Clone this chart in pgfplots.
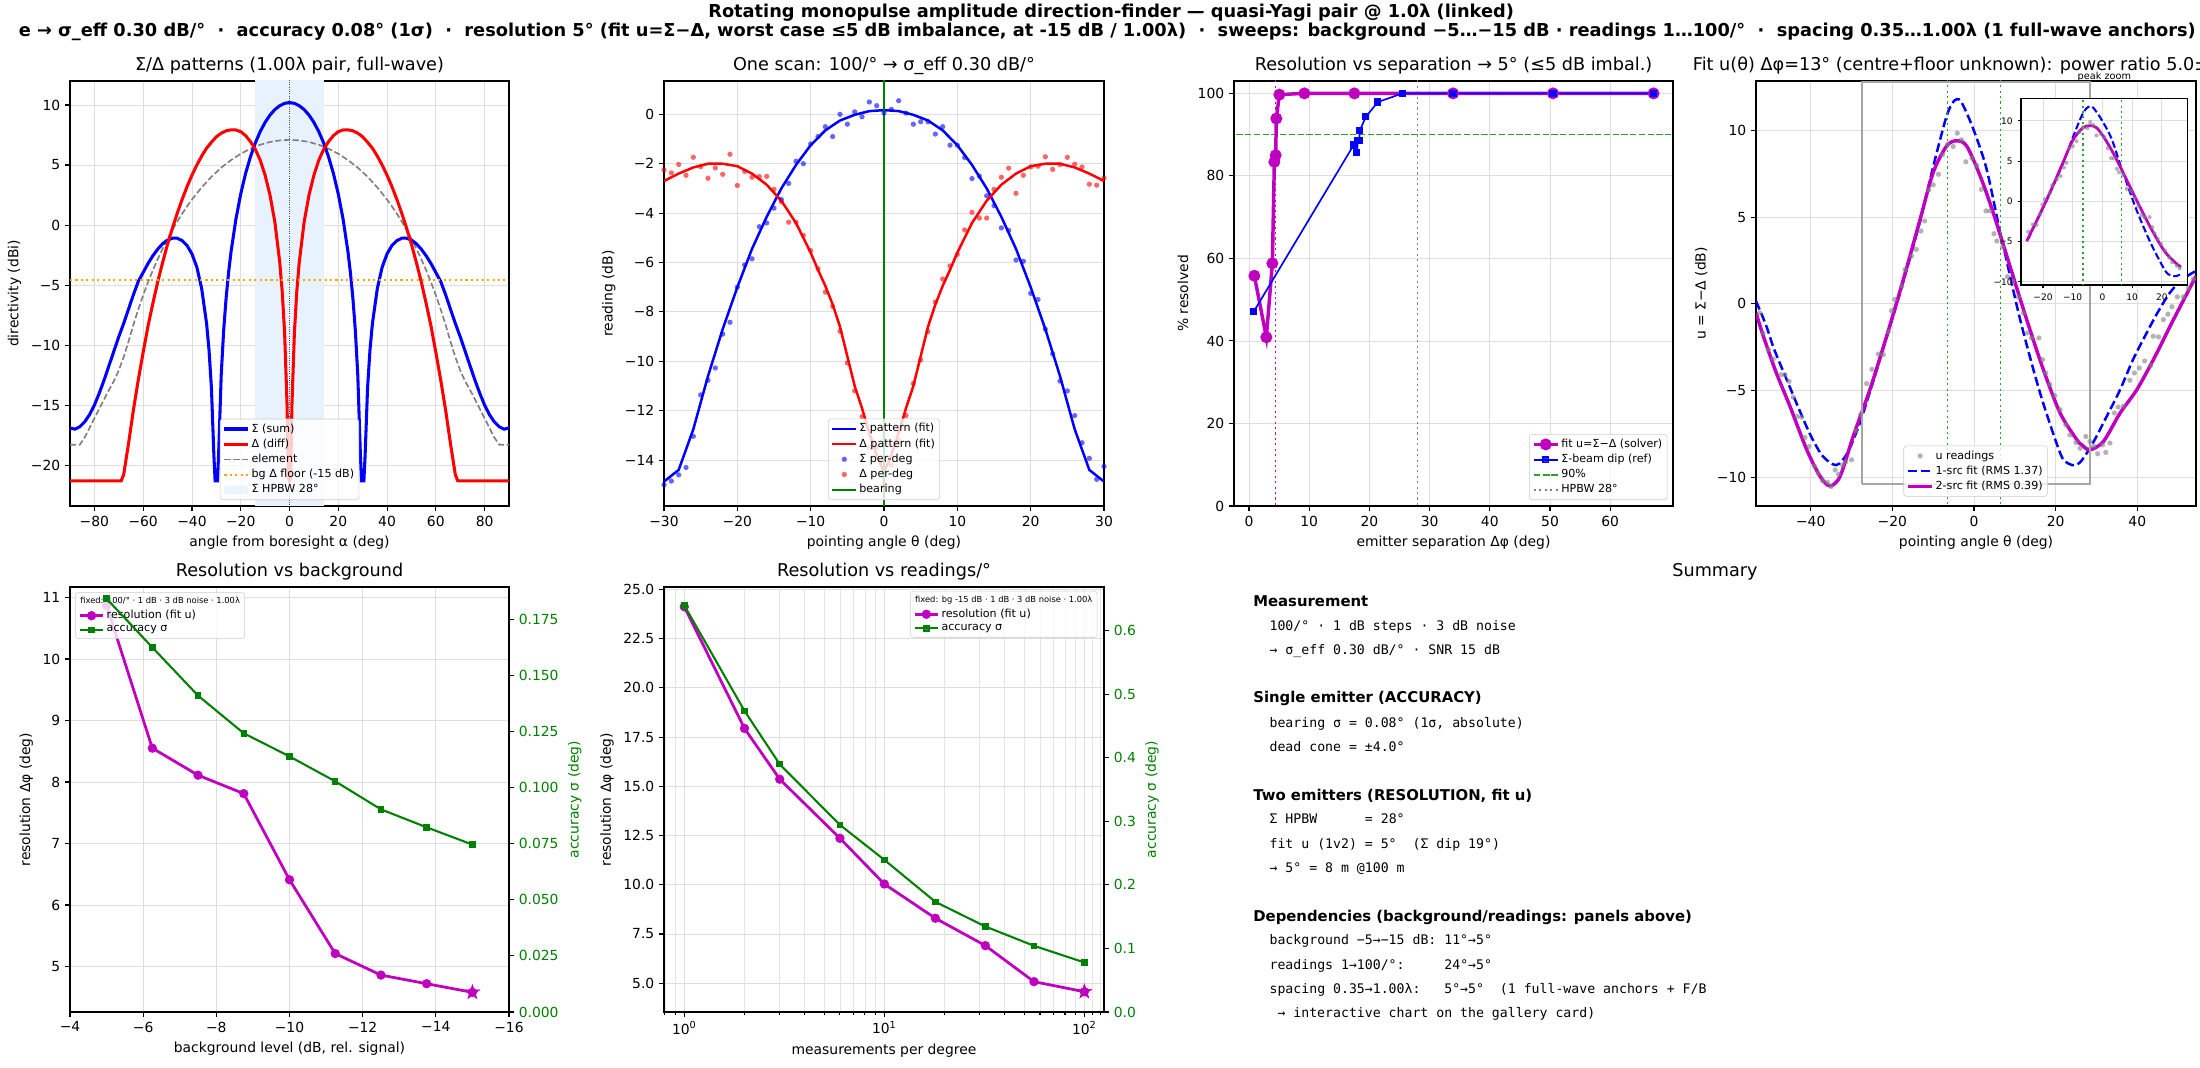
\documentclass[border=0pt]{standalone}
\usepackage{fontspec}
\setmainfont{DejaVu Sans}
\newfontfamily\smono{DejaVu Sans Mono}
\usepackage{pgfplots}
\pgfplotsset{compat=1.18}

\definecolor{mplm}{rgb}{0.75,0,0.75}
\definecolor{mplg}{rgb}{0,0.5,0}
\definecolor{tabgreen}{rgb}{0.173,0.627,0.173}
\definecolor{orng}{rgb}{1,0.647,0}
\definecolor{hpbw}{RGB}{232,242,253}

\pgfdeclareplotmark{fstar}{%
  \pgfpathmoveto{\pgfpointpolar{90}{\pgfplotmarksize}}%
  \pgfpathlineto{\pgfpointpolar{126}{0.382*\pgfplotmarksize}}%
  \pgfpathlineto{\pgfpointpolar{162}{\pgfplotmarksize}}%
  \pgfpathlineto{\pgfpointpolar{198}{0.382*\pgfplotmarksize}}%
  \pgfpathlineto{\pgfpointpolar{234}{\pgfplotmarksize}}%
  \pgfpathlineto{\pgfpointpolar{270}{0.382*\pgfplotmarksize}}%
  \pgfpathlineto{\pgfpointpolar{306}{\pgfplotmarksize}}%
  \pgfpathlineto{\pgfpointpolar{342}{0.382*\pgfplotmarksize}}%
  \pgfpathlineto{\pgfpointpolar{18}{\pgfplotmarksize}}%
  \pgfpathlineto{\pgfpointpolar{54}{0.382*\pgfplotmarksize}}%
  \pgfpathclose
  \pgfusepathqfillstroke
}

\pgfplotsset{
  base/.style={
    scale only axis,
    axis line style={line width=0.8pt},
    tick align=outside, tick pos=left,
    major tick length=3.5pt, minor tick length=2pt,
    every tick/.style={black, line width=0.8pt},
    tick label style={font=\fontsize{10}{12}\selectfont},
    label style={font=\fontsize{10}{12}\selectfont},
    every axis title shift=0pt,
    title style={font=\fontsize{12.7}{15}\selectfont, anchor=base, yshift=7.2pt},
    grid style={black!13, line width=0.6pt},
    legend style={font=\fontsize{8}{9.6}\selectfont, draw=black!20, rounded corners=2pt,
      fill=white, fill opacity=0.8, text opacity=1, inner sep=2pt, row sep=0.6pt,
      nodes={inner sep=1.4pt}},
    legend cell align=left,
  },
  dashedA/.style={dash pattern=on 4.4pt off 1.9pt},
  dottedA/.style={dash pattern=on 1.5pt off 2.4pt},
  dotB/.style={only marks, mark=*, mark size=1.9pt, mark options={fill=blue, fill opacity=0.6, draw opacity=0}},
  dotR/.style={only marks, mark=*, mark size=1.9pt, mark options={fill=red, fill opacity=0.6, draw opacity=0}},
  dotG/.style={only marks, mark=*, mark size=1.9pt, mark options={fill=gray, fill opacity=0.6, draw opacity=0}},
}

\begin{document}
\begin{tikzpicture}

% ---------------- Panel 1 ----------------
\begin{axis}[base, at={(50.4pt,403.92pt)}, anchor=south west, width=316.08pt, height=306pt,
  xmin=-90, xmax=90, ymin=-23.4, ymax=12.0,
  xtick={-80,-60,-40,-20,0,20,40,60,80}, xticklabels={−80,−60,−40,−20,0,20,40,60,80},
  ytick={-20,-15,-10,-5,0,5,10}, yticklabels={−20,−15,−10,−5,0,5,10},
  grid=major, title={Σ/Δ patterns (1.00λ pair, full-wave)},
  xlabel={angle from boresight α (deg)}, ylabel={directivity (dBi)},
  legend style={at={(0.5,0.014)}, anchor=south}]
\addplot[fill=hpbw, draw=none, forget plot] coordinates {(-14,-30) (-14,20) (14,20) (14,-30)};
\addplot[black!70, line width=0.5pt, dash pattern=on 0.6pt off 1pt, forget plot] coordinates {(0,-30) (0,20)};
\addplot[gray, dashedA, line width=1.2pt, forget plot] coordinates {
(-90,-18.3) (-86,-18.3) (-84,-17.7) (-82,-16.9) (-80,-16.1) (-78,-15.3) (-75,-14.1) (-72,-13.0) (-70,-12.1)
(-68,-11.0) (-66,-9.70) (-64,-8.30) (-62,-7.02) (-60,-5.84) (-58,-4.76) (-56,-3.75) (-54,-2.82) (-52,-1.96)
(-50,-1.15) (-48,-0.40) (-46,0.30) (-44,0.95) (-42,1.56) (-40,2.12) (-36,3.14) (-32,4.02) (-28,4.78)
(-24,5.41) (-20,5.94) (-16,6.36) (-12,6.69) (-8,6.92) (-4,7.05) (0,7.1)
(4,7.05) (8,6.92) (12,6.69) (16,6.36) (20,5.94) (24,5.41) (28,4.78) (32,4.02) (36,3.14) (40,2.12)
(42,1.56) (44,0.95) (46,0.30) (48,-0.40) (50,-1.15) (52,-1.96) (54,-2.82) (56,-3.75) (58,-4.76) (60,-5.84)
(62,-7.02) (64,-8.30) (66,-9.70) (68,-11.0) (70,-12.1) (72,-13.0) (75,-14.1) (78,-15.3) (80,-16.1)
(82,-16.9) (84,-17.7) (86,-18.3) (90,-18.3)};
\addplot[blue, line width=2.2pt, forget plot] coordinates {
(-90,-16.9) (-88,-17.0) (-86,-16.8) (-84,-16.4) (-82,-15.8) (-80,-15.0) (-78,-14.0) (-76,-12.9) (-74,-11.7)
(-72,-10.5) (-70,-9.3) (-68,-8.2) (-66,-7.0) (-64,-5.8) (-62,-4.7) (-60,-3.95) (-58,-3.2) (-56,-2.55)
(-54,-2.0) (-52,-1.55) (-50,-1.25) (-48,-1.1) (-47,-1.08) (-46,-1.1) (-44,-1.3) (-42,-1.7) (-40,-2.4)
(-38,-3.5) (-36,-5.3) (-34,-8.2) (-33,-10.4) (-32,-13.6) (-31,-19.2) (-30.5,-21.3) (-29.5,-21.3)
(-29,-18.7) (-28,-12.49) (-27,-8.79) (-26,-6.11) (-25,-4.01) (-24,-2.27) (-22,0.46) (-20,2.59)
(-18,4.30) (-16,5.69) (-14,6.85) (-12,7.79) (-10,8.55) (-8,9.16) (-6,9.62) (-4,9.94) (-2,10.14) (0,10.2)
(2,10.14) (4,9.94) (6,9.62) (8,9.16) (10,8.55) (12,7.79) (14,6.85) (16,5.69) (18,4.30) (20,2.59)
(22,0.46) (24,-2.27) (25,-4.01) (26,-6.11) (27,-8.79) (28,-12.49) (29,-18.7) (29.5,-21.3) (30.5,-21.3)
(31,-19.2) (32,-13.6) (33,-10.4) (34,-8.2) (36,-5.3) (38,-3.5) (40,-2.4) (42,-1.7) (44,-1.3) (46,-1.1)
(47,-1.08) (48,-1.1) (50,-1.25) (52,-1.55) (54,-2.0) (56,-2.55) (58,-3.2) (60,-3.95) (62,-4.7) (64,-5.8)
(66,-7.0) (68,-8.2) (70,-9.3) (72,-10.5) (74,-11.7) (76,-12.9) (78,-14.0) (80,-15.0) (82,-15.8)
(84,-16.4) (86,-16.8) (88,-17.0) (90,-16.9)};
\addplot[red, line width=2.2pt, forget plot] coordinates {
(-90,-21.3) (-69,-21.3) (-68,-20.8) (-66,-18.2) (-64,-15.4) (-62,-12.9) (-60,-10.6) (-58,-8.4) (-56,-6.5)
(-54,-4.7) (-52,-3.1) (-50,-1.6) (-48,-0.25) (-46,1.0) (-44,2.15) (-42,3.2) (-40,4.15) (-38,5.0)
(-36,5.75) (-34,6.4) (-32,6.9) (-30,7.35) (-28,7.65) (-26,7.85) (-24,7.93) (-22,7.92) (-20,7.78)
(-18,7.45) (-16,6.95) (-14,6.30) (-12,5.40) (-10,4.15) (-8,2.5) (-6,0.25) (-4,-3.1) (-3,-5.5) (-2,-9.0)
(-1,-15.0) (-0.5,-21.0) (0,-21.3) (0.5,-21.0) (1,-15.0) (2,-9.0) (3,-5.5) (4,-3.1) (6,0.25) (8,2.5)
(10,4.15) (12,5.40) (14,6.30) (16,6.95) (18,7.45) (20,7.78) (22,7.92) (24,7.93) (26,7.85) (28,7.65)
(30,7.35) (32,6.9) (34,6.4) (36,5.75) (38,5.0) (40,4.15) (42,3.2) (44,2.15) (46,1.0) (48,-0.25)
(50,-1.6) (52,-3.1) (54,-4.7) (56,-6.5) (58,-8.4) (60,-10.6) (62,-12.9) (64,-15.4) (66,-18.2)
(68,-20.8) (69,-21.3) (90,-21.3)};
\addplot[orng, dottedA, line width=1.5pt, forget plot] coordinates {(-90,-4.6) (90,-4.6)};
\addlegendimage{blue, line width=2.2pt}\addlegendentry{Σ (sum)}
\addlegendimage{red, line width=2.2pt}\addlegendentry{Δ (diff)}
\addlegendimage{gray, dashedA, line width=1.2pt}\addlegendentry{element}
\addlegendimage{orng, dottedA, line width=1.5pt}\addlegendentry{bg Δ floor (-15 dB)}
\addlegendimage{area legend, fill=hpbw, draw=hpbw}\addlegendentry{Σ HPBW 28°}
\end{axis}

% ---------------- Panel 2 ----------------
\begin{axis}[base, at={(478.08pt,403.92pt)}, anchor=south west, width=316.8pt, height=306pt,
  xmin=-30, xmax=30, ymin=-15.86, ymax=1.35,
  xtick={-30,-20,-10,0,10,20,30}, xticklabels={−30,−20,−10,0,10,20,30},
  ytick={-14,-12,-10,-8,-6,-4,-2,0}, yticklabels={−14,−12,−10,−8,−6,−4,−2,0},
  grid=major, title={One scan: 100/° → σ\_eff 0.30 dB/°},
  xlabel={pointing angle θ (deg)}, ylabel={reading (dB)},
  legend style={at={(0.5,0.014)}, anchor=south}]
\addplot[blue, line width=1.8pt, forget plot] coordinates {
(-30,-14.87) (-28,-14.4) (-26,-12.75) (-24,-10.6) (-22,-8.7) (-20,-7.0) (-18,-5.45) (-16,-4.15) (-14,-3.0)
(-12,-2.05) (-10,-1.25) (-8,-0.65) (-6,-0.25) (-4,-0.02) (-2,0.13) (0,0.17) (2,0.13) (4,-0.02) (6,-0.25)
(8,-0.65) (10,-1.25) (12,-2.05) (14,-3.0) (16,-4.15) (18,-5.45) (20,-7.0) (22,-8.7) (24,-10.6)
(26,-12.75) (28,-14.4) (30,-14.87)};
\addplot[red, line width=1.8pt, forget plot] coordinates {
(-30,-2.7) (-28,-2.4) (-26,-2.15) (-24,-2.0) (-22,-2.0) (-20,-2.1) (-18,-2.4) (-16,-2.85) (-14,-3.5)
(-12,-4.4) (-10,-5.6) (-9,-6.3) (-8,-6.95) (-7,-7.7) (-6,-8.6) (-5,-9.8) (-4,-11.0) (-3,-11.9) (-2,-12.9)
(-1,-13.8) (0,-14.5) (1,-13.8) (2,-12.9) (3,-11.9) (4,-11.0) (5,-9.8) (6,-8.6) (7,-7.7) (8,-6.95)
(9,-6.3) (10,-5.6) (12,-4.4) (14,-3.5) (16,-2.85) (18,-2.4) (20,-2.1) (22,-2.0) (24,-2.0) (26,-2.15)
(28,-2.4) (30,-2.7)};
\addplot[dotB, forget plot] coordinates {
(-30,-15.0) (-29,-14.85) (-28,-14.6) (-27,-14.3) (-26,-13.04) (-25,-11.36) (-24,-10.77) (-23,-10.27)
(-22,-8.9) (-21,-8.42) (-20,-7.0) (-19,-6.1) (-18,-5.85) (-17,-4.55) (-16,-4.4) (-15,-3.8) (-14,-3.45)
(-13,-2.8) (-12,-1.9) (-11,-2.0) (-10,-1.2) (-9,-0.9) (-8,-0.5) (-7,-0.9) (-6,0.0) (-5,-0.4) (-4,0.1)
(-3,-0.1) (-2,0.5) (-1,0.35) (0,0.05) (1,0.2) (2,0.55) (3,0.05) (4,-0.4) (5,-0.3) (6,-0.3) (7,-0.8)
(8,-0.5) (9,-1.25) (10,-1.25) (11,-1.75) (12,-2.6) (13,-2.5) (14,-3.3) (15,-3.7) (16,-4.6) (17,-4.7)
(18,-5.9) (19,-5.95) (20,-7.25) (21,-7.5) (22,-8.7) (23,-9.7) (24,-10.8) (25,-11.2) (26,-12.2)
(27,-13.3) (28,-13.93) (29,-14.78) (30,-14.26)};
\addplot[dotR, forget plot] coordinates {
(-30,-2.25) (-29,-2.37) (-28,-2.03) (-27,-2.47) (-26,-1.74) (-25,-2.12) (-24,-2.59) (-23,-2.17) (-22,-2.43)
(-21,-1.62) (-20,-2.88) (-19,-2.31) (-18,-2.55) (-17,-2.52) (-16,-2.51) (-15,-3.04) (-14,-3.54)
(-13,-4.37) (-12,-4.37) (-11,-4.90) (-10,-5.52) (-9,-6.25) (-8,-7.2) (-7,-7.78) (-6,-8.79) (-5,-10.07)
(-4,-11.2) (-3,-12.24) (-2,-13.5) (-1,-13.5) (0,-15.0) (1,-14.2) (2,-13.2) (3,-12.2) (4,-10.9)
(5,-9.95) (6,-8.8) (7,-7.6) (8,-6.67) (9,-6.14) (10,-5.67) (11,-4.68) (12,-3.97) (13,-4.2) (14,-4.2)
(15,-3.04) (16,-2.55) (17,-2.18) (18,-3.2) (19,-2.47) (20,-2.13) (21,-2.1) (22,-1.72) (23,-2.23)
(24,-2.04) (25,-1.74) (26,-2.02) (27,-2.13) (28,-2.83) (29,-2.87) (30,-2.58)};
\addplot[mplg, line width=1.5pt, forget plot] coordinates {(0,-20) (0,5)};
\addlegendimage{blue, line width=1.8pt}\addlegendentry{Σ pattern (fit)}
\addlegendimage{red, line width=1.8pt}\addlegendentry{Δ pattern (fit)}
\addlegendimage{dotB}\addlegendentry{Σ per-deg}
\addlegendimage{dotR}\addlegendentry{Δ per-deg}
\addlegendimage{mplg, line width=1.5pt}\addlegendentry{bearing}
\end{axis}

% ---------------- Panel 3 ----------------
\begin{axis}[base, at={(888.48pt,403.92pt)}, anchor=south west, width=316.08pt, height=306pt,
  xmin=-2.49, xmax=70.43, ymin=0, ymax=103,
  xtick={0,10,20,30,40,50,60}, xticklabels={0,10,20,30,40,50,60},
  ytick={0,20,40,60,80,100}, yticklabels={0,20,40,60,80,100},
  grid=major, title={Resolution vs separation → 5° (≤5 dB imbal.)},
  xlabel={emitter separation Δφ (deg)}, ylabel={\% resolved},
  legend style={at={(0.987,0.014)}, anchor=south east}]
\addplot[tabgreen, dashedA, line width=1.2pt, forget plot] coordinates {(-5,90) (80,90)};
\addplot[gray, dottedA, line width=1.2pt, forget plot] coordinates {(28,-5) (28,110)};
\addplot[mplm, dottedA, line width=1.2pt, forget plot] coordinates {(4.4,-5) (4.4,110)};
\addplot[mplm, line width=2.5pt, mark=*, mark size=3pt, mark options={solid, fill=mplm}, forget plot] coordinates {
(0.89,55.8) (2.88,40.9) (3.88,58.8) (4.21,83.4) (4.43,85.0) (4.54,93.9) (5.04,99.7) (9.2,100) (17.5,100)
(33.9,100) (50.5,100) (67.2,100)};
\addplot[blue, line width=1.2pt, mark=square*, mark size=2pt, mark options={solid, fill=blue}, forget plot] coordinates {
(0.78,47.1) (17.4,87.5) (17.9,85.6) (18.1,88.5) (18.3,88.5) (18.4,91.0) (19.4,94.3) (21.4,97.9)
(25.5,100) (33.9,100) (50.5,100) (67.2,100)};
\addlegendimage{mplm, line width=2.5pt, mark=*, mark size=3pt, mark options={solid, fill=mplm}}\addlegendentry{fit u=Σ−Δ (solver)}
\addlegendimage{blue, line width=1.2pt, mark=square*, mark size=2pt, mark options={solid, fill=blue}}\addlegendentry{Σ-beam dip (ref)}
\addlegendimage{tabgreen, dashedA, line width=1.2pt}\addlegendentry{90\%}
\addlegendimage{gray, dottedA, line width=1.2pt}\addlegendentry{HPBW 28°}
\end{axis}

% ---------------- Panel 4 ----------------
\begin{axis}[base, at={(1264.32pt,403.92pt)}, anchor=south west, width=316.8pt, height=306pt,
  xmin=-53.4, xmax=54.4, ymin=-11.66, ymax=12.85,
  xtick={-40,-20,0,20,40}, xticklabels={−40,−20,0,20,40},
  ytick={-10,-5,0,5,10}, yticklabels={−10,−5,0,5,10},
  grid=major, title={Fit u(θ) Δφ=13° (centre+floor unknown): power ratio 5.0±},
  title style={at={(-0.1545,1)}, anchor=base west},
  xlabel={pointing angle θ (deg)}, ylabel={u = Σ−Δ (dB)},
  legend style={at={(0.499,0.022)}, anchor=south}]
\addplot[dotG, forget plot] table {
x y
-52.5 -0.52
-51.7 -1.68
-50.4 -2.64
-49.2 -3.18
-47.3 -4.09
-46.3 -4.09
-45.3 -4.47
-44.3 -5.38
-43.3 -6.5
-42.2 -6.54
-41.4 -7.71
-40.4 -8.23
-39.1 -9.35
-38.2 -9.77
-37.1 -10.2
-35.9 -10.3
-35.0 -10.54
-34.0 -9.58
-33.2 -9.83
-32.2 -9.3
-31.4 -9.1
-30.0 -9.0
-28.9 -7.32
-27.8 -6.4
-26.3 -4.6
-25.0 -3.78
-23.4 -2.9
-22.2 -2.93
-21.0 -1.6
-20.2 -0.4
-19.4 0.25
-17.7 1.02
-16.9 1.98
-15.3 2.75
-14.1 3.14
-13.0 4.2
-12.1 4.78
-11.1 6.57
-10.0 6.86
-8.7 7.47
-7.7 8.6
-6.5 9.2
-5.1 9.07
-4.1 9.84
-3.1 9.46
-2.0 8.19
-0.5 8.4
0.65 7.99
1.8 6.6
2.94 5.36
3.9 5.36
4.9 4.04
5.6 3.62
7.0 3.27
8.2 1.56
9.5 1.3
10.9 0.4
12.1 -0.52
13.1 -1.68
14.1 -1.97
15.9 -1.97
16.8 -3.22
17.6 -3.99
18.6 -4.66
19.8 -5.3
21.1 -6.11
22.5 -6.98
23.5 -7.56
25.0 -8.0
26.0 -8.33
27.4 -7.65
28.4 -7.94
29.3 -8.2
30.3 -8.65
31.5 -8.13
32.3 -8.57
33.3 -8.03
34.4 -6.3
35.3 -5.95
36.6 -5.91
38.2 -4.41
39.3 -3.99
40.5 -3.7
41.8 -3.3
43.3 -3.56
43.9 -1.87
45.2 -1.91
46.4 -0.91
47.5 -0.6
48.5 -0.17
49.8 0.4
51.3 0.4
52.5 0.9
53.7 1.41
};
\addplot[blue, dash pattern=on 6.5pt off 2.8pt, line width=1.8pt, smooth, tension=0.5, forget plot] coordinates {
(-53.4,0.15) (-51,-1.2) (-49,-2.6) (-46,-4.3) (-43,-6.0) (-40,-7.6) (-37,-8.8) (-33.7,-9.3) (-31,-8.6)
(-28,-6.9) (-25,-4.7) (-21.5,-2.0) (-18.1,0.64) (-15.5,2.8) (-13.1,4.87) (-10,7.9) (-7,10.6) (-5.5,11.5)
(-4.25,11.8) (-3,11.6) (-0.2,10.1) (3.1,7.76) (6.4,4.1) (7.2,3.33) (11.3,-0.9) (16.2,-5.15) (21.1,-8.6)
(23,-9.2) (24.9,-9.3) (26.5,-9.0) (29.2,-8.0) (32.5,-6.5) (35.8,-4.95) (39,-3.2) (42.3,-1.68) (45,-0.5)
(48,0.64) (51,1.4) (54.4,1.9)};
\addplot[mplm, line width=2.5pt, smooth, tension=0.5, forget plot] coordinates {
(-53.4,-0.52) (-51.6,-1.87) (-48.4,-4.0) (-45.1,-5.9) (-41,-8.4) (-37.7,-9.95) (-35.3,-10.5) (-32.8,-9.95)
(-29.6,-7.65) (-25.5,-4.95) (-21.4,-1.87) (-17.3,1.40) (-13.2,4.87) (-10,7.57) (-6.7,9.1) (-4.25,9.4)
(-1.8,9.1) (1.5,7.38) (4.7,5.26) (8.8,2.18) (12.9,-0.9) (17.0,-3.8) (21.1,-6.3) (25.2,-7.84) (26.5,-8.15)
(28.4,-8.42) (31.7,-7.94) (35.8,-6.3) (39.9,-4.95) (44.0,-3.2) (48.9,-0.9) (54.4,1.6)};
\addplot[tabgreen, dottedA, line width=1.1pt, forget plot] coordinates {(-6.5,-20) (-6.5,20)};
\addplot[tabgreen, dottedA, line width=1.1pt, forget plot] coordinates {(6.5,-20) (6.5,20)};
\addplot[black!35, line width=1.3pt, forget plot] coordinates {(-27.5,-10.4) (28.5,-10.4) (28.5,12.8) (-27.5,12.8) (-27.5,-10.4)};
\addlegendimage{dotG}\addlegendentry{u readings}
\addlegendimage{blue, dash pattern=on 6.5pt off 2.8pt, line width=1.8pt}\addlegendentry{1-src fit (RMS 1.37)}
\addlegendimage{mplm, line width=2.5pt}\addlegendentry{2-src fit (RMS 0.39)}
\end{axis}

% ---------------- Inset ----------------
\begin{axis}[base, at={(1455.1pt,563.04pt)}, anchor=south west, width=120pt, height=134.4pt,
  xmin=-27.4, xmax=28.7, ymin=-10.4, ymax=12.8,
  xtick={-20,-10,0,10,20}, xticklabels={−20,−10,0,10,20},
  ytick={-10,-5,0,5,10}, yticklabels={−10,−5,0,5,10},
  tick label style={font=\fontsize{6.5}{7.5}\selectfont}, major tick length=2.5pt,
  grid=major, axis background/.style={fill=white},
  title={peak zoom}, title style={font=\fontsize{7}{8}\selectfont, yshift=6.5pt},
  restrict x to domain=-25.6:26.6]
\addplot[only marks, mark=*, mark size=1.5pt, mark options={fill=gray, fill opacity=0.6, draw opacity=0}] table {
x y
-25.0 -3.78
-23.4 -2.9
-22.2 -2.93
-21.0 -1.6
-20.2 -0.4
-19.4 0.25
-17.7 1.02
-16.9 1.98
-15.3 2.75
-14.1 3.14
-13.0 4.2
-12.1 4.78
-11.1 6.57
-10.0 6.86
-8.7 7.47
-7.7 8.6
-6.5 9.2
-5.1 9.07
-4.1 9.84
-3.1 9.46
-2.0 8.19
-0.5 8.4
0.65 7.99
1.8 6.6
2.94 5.36
3.9 5.36
4.9 4.04
5.6 3.62
7.0 3.27
8.2 1.56
9.5 1.3
10.9 0.4
12.1 -0.52
13.1 -1.68
14.1 -1.97
15.9 -1.97
16.8 -3.22
17.6 -3.99
18.6 -4.66
19.8 -5.3
21.1 -6.11
22.5 -6.98
23.5 -7.56
25.0 -8.0
26.0 -8.33
};
\addplot[blue, dash pattern=on 5pt off 2.2pt, line width=1.5pt, smooth, tension=0.5] coordinates {
(-25,-4.7) (-21.5,-2.0) (-18.1,0.64) (-15.5,2.8) (-13.1,4.87) (-10,7.9) (-7,10.6) (-5.5,11.5)
(-4.25,11.8) (-3,11.6) (-0.2,10.1) (3.1,7.76) (6.4,4.1) (7.2,3.33) (11.3,-0.9) (16.2,-5.15) (21.1,-8.6)
(23,-9.2) (24.9,-9.3) (26.5,-9.0)};
\addplot[mplm, line width=2pt, smooth, tension=0.5] coordinates {
(-25.5,-4.95) (-21.4,-1.87) (-17.3,1.40) (-13.2,4.87) (-10,7.57) (-6.7,9.1) (-4.25,9.4)
(-1.8,9.1) (1.5,7.38) (4.7,5.26) (8.8,2.18) (12.9,-0.9) (17.0,-3.8) (21.1,-6.3) (25.2,-7.84) (26.5,-8.15)};
\addplot[tabgreen, dottedA, line width=1pt] coordinates {(-6.5,-20) (-6.5,20)};
\addplot[tabgreen, dottedA, line width=1pt] coordinates {(6.5,-20) (6.5,20)};
\end{axis}

% ---------------- Bottom left ----------------
\begin{axis}[base, at={(50.4pt,39.6pt)}, anchor=south west, width=316.08pt, height=306pt,
  x dir=reverse, xmin=-16, xmax=-4, ymin=4.26, ymax=11.17,
  xtick={-16,-14,-12,-10,-8,-6,-4}, xticklabels={−16,−14,−12,−10,−8,−6,−4},
  ytick={5,6,7,8,9,10,11}, yticklabels={5,6,7,8,9,10,11},
  grid=major, title={Resolution vs background},
  xlabel={background level (dB, rel. signal)}, ylabel={resolution Δφ (deg)},
  legend style={at={(0.012,0.9875)}, anchor=north west}]
\addplot[mplm, line width=2pt, mark=*, mark size=2.3pt, mark options={solid, fill=mplm}, forget plot] coordinates {
(-5,10.87) (-6.25,8.55) (-7.5,8.11) (-8.75,7.81) (-10,6.41) (-11.25,5.21) (-12.5,4.86) (-13.75,4.72) (-15,4.58)};
\addplot[only marks, mark=fstar, mark size=5.5pt, mark options={fill=mplm, draw=mplm}, forget plot] coordinates {(-15,4.58)};
\addlegendimage{empty legend}\addlegendentry{\hspace*{-19pt}\fontsize{6}{7}\selectfont fixed: 100/° · 1 dB · 3 dB noise · 1.00λ}
\addlegendimage{mplm, line width=2pt, mark=*, mark size=2.3pt, mark options={solid, fill=mplm}}\addlegendentry{resolution (fit u)}
\addlegendimage{mplg, line width=1.5pt, mark=square*, mark size=1.6pt, mark options={solid, fill=mplg}}\addlegendentry{accuracy σ}
\end{axis}
\begin{axis}[base, at={(50.4pt,39.6pt)}, anchor=south west, width=316.08pt, height=306pt,
  x dir=reverse, xmin=-16, xmax=-4, ymin=0, ymax=0.1894,
  axis x line=none, axis y line*=right, ytick pos=right, yticklabel pos=right,
  ytick={0,0.025,0.05,0.075,0.1,0.125,0.15,0.175},
  yticklabels={0.000,0.025,0.050,0.075,0.100,0.125,0.150,0.175},
  yticklabel style={text=mplg}, ylabel={accuracy σ (deg)}, ylabel style={text=mplg}]
\addplot[mplg, line width=1.5pt, mark=square*, mark size=1.6pt, mark options={solid, fill=mplg}] coordinates {
(-5,0.1842) (-6.25,0.1625) (-7.5,0.1410) (-8.75,0.1242) (-10,0.1139) (-11.25,0.1028) (-12.5,0.0903) (-13.75,0.0823) (-15,0.0746)};
\end{axis}

% ---------------- Bottom middle ----------------
\begin{axis}[base, at={(478.08pt,39.6pt)}, anchor=south west, width=316.8pt, height=306pt,
  xmode=log, xmin=0.792, xmax=125.4, ymin=3.54, ymax=25.12,
  xtick={1,10,100}, xticklabels={10\textsuperscript{0},10\textsuperscript{1},10\textsuperscript{2}},
  minor xtick={0.8,0.9,2,3,4,5,6,7,8,9,20,30,40,50,60,70,80,90,110,120},
  ytick={5,7.5,10,12.5,15,17.5,20,22.5,25}, yticklabels={5.0,7.5,10.0,12.5,15.0,17.5,20.0,22.5,25.0},
  xmajorgrids=true, xminorgrids=true, ymajorgrids=true,
  minor grid style={black!10, line width=0.5pt},
  title={Resolution vs readings/°},
  xlabel={measurements per degree}, ylabel={resolution Δφ (deg)},
  legend style={at={(0.985,0.991)}, anchor=north east}]
\addplot[mplm, line width=2pt, mark=*, mark size=2.3pt, mark options={solid, fill=mplm}, forget plot] coordinates {
(1,24.12) (2,17.94) (3,15.36) (6,12.36) (10,10.04) (18,8.30) (32,6.91) (56,5.08) (100,4.57)};
\addplot[only marks, mark=fstar, mark size=5.5pt, mark options={fill=mplm, draw=mplm}, forget plot] coordinates {(100,4.57)};
\addlegendimage{empty legend}\addlegendentry{\hspace*{-19pt}\fontsize{6}{7}\selectfont fixed: bg -15 dB · 1 dB · 3 dB noise · 1.00λ}
\addlegendimage{mplm, line width=2pt, mark=*, mark size=2.3pt, mark options={solid, fill=mplm}}\addlegendentry{resolution (fit u)}
\addlegendimage{mplg, line width=1.5pt, mark=square*, mark size=1.6pt, mark options={solid, fill=mplg}}\addlegendentry{accuracy σ}
\end{axis}
\begin{axis}[base, at={(478.08pt,39.6pt)}, anchor=south west, width=316.8pt, height=306pt,
  xmode=log, xmin=0.792, xmax=125.4, ymin=0, ymax=0.669,
  axis x line=none, axis y line*=right, ytick pos=right, yticklabel pos=right,
  ytick={0,0.1,0.2,0.3,0.4,0.5,0.6}, yticklabels={0.0,0.1,0.2,0.3,0.4,0.5,0.6},
  yticklabel style={text=mplg}, ylabel={accuracy σ (deg)}, ylabel style={text=mplg}]
\addplot[mplg, line width=1.5pt, mark=square*, mark size=1.6pt, mark options={solid, fill=mplg}] coordinates {
(1,0.640) (2,0.474) (3,0.390) (6,0.2945) (10,0.2395) (18,0.1734) (32,0.1346) (56,0.1042) (100,0.078)};
\end{axis}

% ---------------- Titles and summary ----------------
\node[anchor=base, inner sep=0, font=\bfseries\fontsize{12.8}{15}\selectfont] at (800pt,755.3pt)
  {Rotating monopulse amplitude direction-finder — quasi-Yagi pair @ 1.0λ (linked)};
\node[anchor=base east, inner sep=0, font=\bfseries\fontsize{12.8}{15}\selectfont] at (1581pt,742.3pt)
  {e → σ\_eff 0.30 dB/°\ \ ·\ \ accuracy 0.08° (1σ)\ \ ·\ \ resolution 5° (fit u=Σ−Δ, worst case ≤5 dB imbalance, at -15 dB / 1.00λ)\ \ ·\ \ sweeps: background −5…−15 dB · readings 1…100/°\ \ ·\ \ spacing 0.35…1.00λ (1 full-wave anchors)};

\node[anchor=base, inner sep=0, font=\fontsize{12.7}{15}\selectfont] at (1234.8pt,352.8pt) {Summary};
\begin{scope}[every node/.style={anchor=base west, inner sep=0}]
\node[font=\bfseries\fontsize{10.7}{12}\selectfont] at (902.2pt,331.4pt) {Measurement};
\node[font=\smono\fontsize{9.5}{11}\selectfont] at (913.9pt,314.1pt) {100/° · 1 dB steps · 3 dB noise};
\node[font=\smono\fontsize{9.5}{11}\selectfont] at (913.9pt,296.8pt) {→ σ\_eff 0.30 dB/° · SNR 15 dB};
\node[font=\bfseries\fontsize{10.7}{12}\selectfont] at (902.2pt,262.3pt) {Single emitter (ACCURACY)};
\node[font=\smono\fontsize{9.5}{11}\selectfont] at (913.9pt,244.4pt) {bearing σ = 0.08° (1σ, absolute)};
\node[font=\smono\fontsize{9.5}{11}\selectfont] at (913.9pt,227.2pt) {dead cone = ±4.0°};
\node[font=\bfseries\fontsize{10.7}{12}\selectfont] at (902.2pt,192.2pt) {Two emitters (RESOLUTION, fit u)};
\node[font=\smono\fontsize{9.5}{11}\selectfont] at (913.9pt,175.1pt) {Σ HPBW~~~~~~= 28°};
\node[font=\smono\fontsize{9.5}{11}\selectfont] at (913.9pt,157.3pt) {fit u (1v2) = 5°~~(Σ dip 19°)};
\node[font=\smono\fontsize{9.5}{11}\selectfont] at (913.9pt,140.3pt) {→ 5° = 8 m @100 m};
\node[font=\bfseries\fontsize{10.7}{12}\selectfont] at (902.2pt,105.1pt) {Dependencies (background/readings: panels above)};
\node[font=\smono\fontsize{9.5}{11}\selectfont] at (913.9pt,88.0pt) {background −5→−15 dB: 11°→5°};
\node[font=\smono\fontsize{9.5}{11}\selectfont] at (913.9pt,70.5pt) {readings 1→100/°:~~~~~24°→5°};
\node[font=\smono\fontsize{9.5}{11}\selectfont] at (913.9pt,52.7pt) {spacing 0.35→1.00λ:~~~5°→5°~~(1 full-wave anchors + F/B};
\node[font=\smono\fontsize{9.5}{11}\selectfont] at (919.6pt,35.6pt) {→ interactive chart on the gallery card)};
\end{scope}

\pgfresetboundingbox
\path[use as bounding box] (0,0) rectangle (1584pt,768.24pt);
\end{tikzpicture}
\end{document}
